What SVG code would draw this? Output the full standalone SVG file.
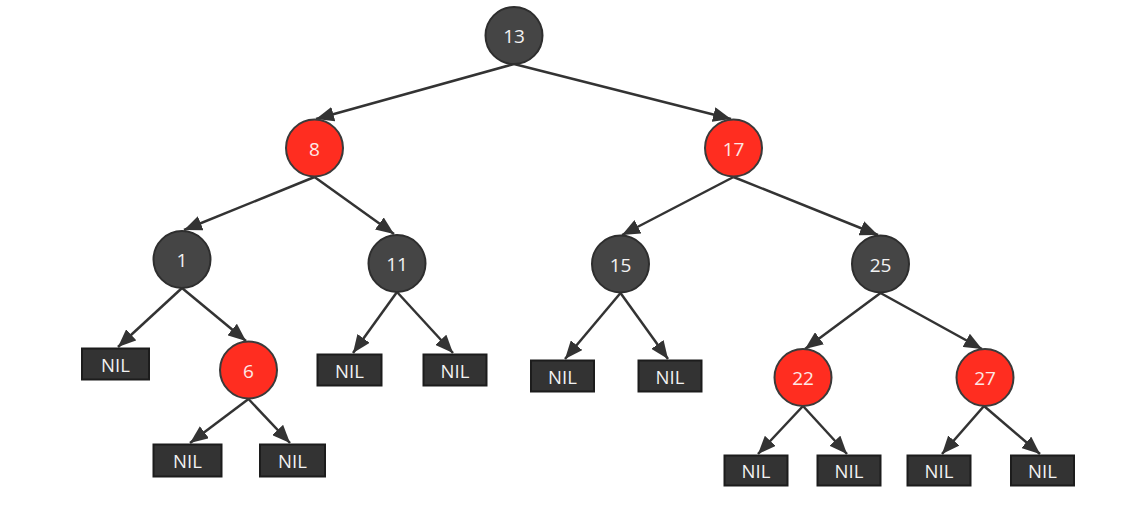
<svg xmlns="http://www.w3.org/2000/svg" width="1133" height="524" viewBox="0 0 1133 524">
<style>
.edge{stroke:#333;stroke-width:2.5;fill:none;marker-end:url(#arr)}
.blk{fill:#454545;stroke:#2e2e2e;stroke-width:2}
.red{fill:#ff2d20;stroke:#3a3a3a;stroke-width:2}
.nil{fill:#333;stroke:#1c1c1c;stroke-width:2}
text{font-family:"Open Sans","Noto Sans","DejaVu Sans",sans-serif;font-size:19px;text-anchor:middle;dominant-baseline:central;fill:#f2f2f2}
.rt{fill:#fde8e6}
.nt{font-size:18.5px}
</style>
<defs>
<marker id="arr" markerUnits="userSpaceOnUse" markerWidth="19" markerHeight="15" refX="18" refY="7.5" orient="auto">
<path d="M0,0 L18,7.5 L0,15 z" fill="#333"/>
</marker>
</defs>
<rect width="1133" height="524" fill="#fff"/>
<g id="connectors">
<line class="edge" x1="514" y1="64" x2="316" y2="119"/>
<line class="edge" x1="514" y1="64" x2="731" y2="119"/>
<line class="edge" x1="314.5" y1="177" x2="184" y2="230"/>
<line class="edge" x1="314.5" y1="177" x2="394" y2="234"/>
<line class="edge" x1="733.5" y1="177" x2="622" y2="235"/>
<line class="edge" x1="733.5" y1="177" x2="878" y2="235"/>
<line class="edge" x1="182" y1="288" x2="118" y2="347"/>
<line class="edge" x1="182" y1="288" x2="246" y2="341"/>
<line class="edge" x1="248.5" y1="399" x2="190" y2="443"/>
<line class="edge" x1="248.5" y1="399" x2="290" y2="443"/>
<line class="edge" x1="397" y1="292" x2="353" y2="353"/>
<line class="edge" x1="397" y1="292" x2="453" y2="353"/>
<line class="edge" x1="620.5" y1="293" x2="565" y2="359"/>
<line class="edge" x1="620.5" y1="293" x2="668" y2="359"/>
<line class="edge" x1="880.5" y1="293" x2="805" y2="349"/>
<line class="edge" x1="880.5" y1="293" x2="982" y2="349"/>
<line class="edge" x1="803" y1="406" x2="758" y2="454"/>
<line class="edge" x1="803" y1="406" x2="847" y2="454"/>
<line class="edge" x1="984" y1="406" x2="942" y2="454"/>
<line class="edge" x1="984" y1="406" x2="1040" y2="454"/>
</g>
<g id="n13"><circle class="blk" cx="514" cy="35.5" r="28.5"/><text x="514" y="36">13</text></g>
<g id="n8"><circle class="red" cx="314.5" cy="148" r="28.5"/><text class="rt" x="314.5" y="148.5">8</text></g>
<g id="n17"><circle class="red" cx="733.5" cy="148" r="28.5"/><text class="rt" x="733.5" y="148.5">17</text></g>
<g id="n1"><circle class="blk" cx="182" cy="259.5" r="28.5"/><text x="182" y="260">1</text></g>
<g id="n11"><circle class="blk" cx="397" cy="263.5" r="28.5"/><text x="397" y="264">11</text></g>
<g id="n15"><circle class="blk" cx="620.5" cy="264" r="28.5"/><text x="620.5" y="264.5">15</text></g>
<g id="n25"><circle class="blk" cx="880.5" cy="264" r="28.5"/><text x="880.5" y="264.5">25</text></g>
<g id="n6"><circle class="red" cx="248.5" cy="370" r="28.5"/><text class="rt" x="248.5" y="370.5">6</text></g>
<g id="n22"><circle class="red" cx="803" cy="377.5" r="28.5"/><text class="rt" x="803" y="378">22</text></g>
<g id="n27"><circle class="red" cx="985" cy="377.5" r="28.5"/><text class="rt" x="985" y="378">27</text></g>
<g id="nil1"><rect class="nil" x="82" y="348.5" width="67" height="31"/><text class="nt" x="115.5" y="364">NIL</text></g>
<g id="nil2"><rect class="nil" x="153.5" y="444.5" width="68" height="32"/><text class="nt" x="187.5" y="460.5">NIL</text></g>
<g id="nil3"><rect class="nil" x="260" y="444.5" width="65" height="32"/><text class="nt" x="292.5" y="460.5">NIL</text></g>
<g id="nil4"><rect class="nil" x="317.5" y="354.5" width="64" height="31"/><text class="nt" x="349.5" y="370">NIL</text></g>
<g id="nil5"><rect class="nil" x="423.5" y="354.5" width="63" height="31"/><text class="nt" x="455" y="370">NIL</text></g>
<g id="nil6"><rect class="nil" x="531" y="360.5" width="63" height="31"/><text class="nt" x="562.5" y="376">NIL</text></g>
<g id="nil7"><rect class="nil" x="638.5" y="360.5" width="63" height="31"/><text class="nt" x="670" y="376">NIL</text></g>
<g id="nil8"><rect class="nil" x="724.5" y="455.5" width="63" height="30"/><text class="nt" x="756" y="470.5">NIL</text></g>
<g id="nil9"><rect class="nil" x="817.5" y="455.5" width="63" height="30"/><text class="nt" x="849" y="470.5">NIL</text></g>
<g id="nil10"><rect class="nil" x="907.5" y="455.5" width="63" height="30"/><text class="nt" x="939" y="470.5">NIL</text></g>
<g id="nil11"><rect class="nil" x="1011" y="455.5" width="63" height="30"/><text class="nt" x="1042.5" y="470.5">NIL</text></g>
</svg>
